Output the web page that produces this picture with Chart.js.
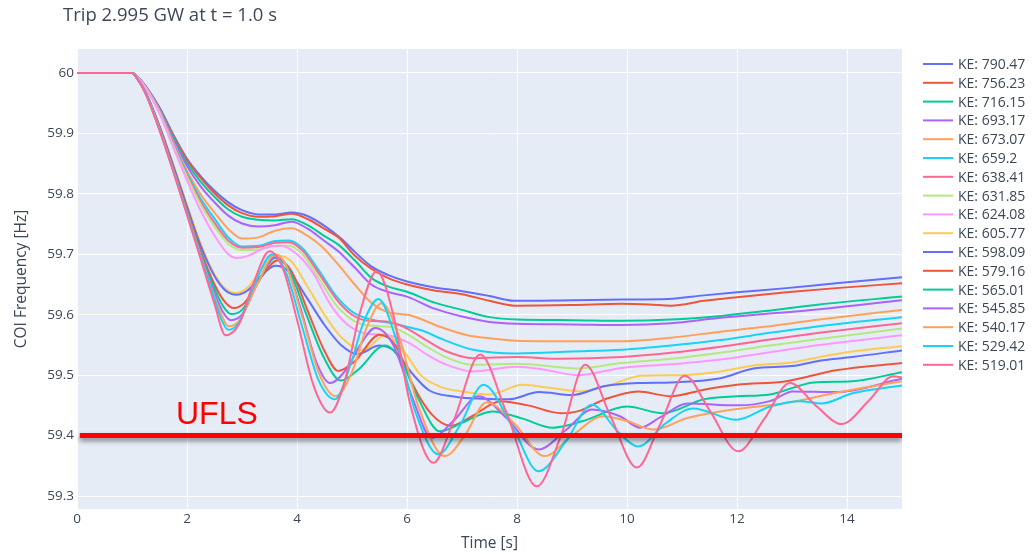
<!DOCTYPE html>
<html>
<head>
<meta charset="utf-8">
<script src="https://cdn.jsdelivr.net/npm/chart.js@4.4.1/dist/chart.umd.min.js"></script>
<style>
  html, body { margin: 0; padding: 0; background: #ffffff; }
  #wrap { width: 1033px; height: 554px; }
</style>
</head>
<body>
<div id="wrap"><canvas id="c" width="1033" height="554"></canvas></div>
<script>
// Centre-of-inertia frequency after a 2.995 GW trip, one trace per kinetic energy level.
// Each trace is a list of [time (s), frequency (Hz)] samples.
const TITLE = 'Trip 2.995 GW at t = 1.0 s';
const X_TICKS = [0, 2, 4, 6, 8, 10, 12, 14];
const Y_TICKS = [59.3, 59.4, 59.5, 59.6, 59.7, 59.8, 59.9, 60];
const KE_LABELS = ['790.47', '756.23', '716.15', '693.17', '673.07', '659.2', '638.41', '631.85', '624.08',
                   '605.77', '598.09', '579.16', '565.01', '545.85', '540.17', '529.42', '519.01'];
const UFLS_LEVEL = 59.4;
const UFLS_SPAN = [0.05, 15];
const UFLS_LABEL_T = 1.8;

const KE_790 = [[0,60],[1,60],[1.1,59.994],[1.25,59.978],[1.5,59.943],[1.75,59.898],[2,59.858],[2.25,59.829],[2.5,59.805],[2.75,59.786],[3,59.773],[3.3,59.766],[3.6,59.766],[3.9,59.769],[4.2,59.763],[4.5,59.747],[4.8,59.726],[5.05,59.704],[5.35,59.680],[5.65,59.666],[6,59.655],[6.5,59.645],[7,59.639],[7.5,59.631],[7.95,59.623],[9,59.624],[9.9,59.625],[10.75,59.626],[11.4,59.632],[12,59.637],[12.9,59.644],[13.8,59.652],[15,59.662]];
const KE_756 = [[0,60],[1,60],[1.1,59.994],[1.25,59.978],[1.5,59.942],[1.75,59.897],[2,59.856],[2.25,59.826],[2.5,59.801],[2.75,59.781],[3,59.768],[3.3,59.762],[3.6,59.763],[3.9,59.767],[4.2,59.758],[4.5,59.742],[4.75,59.728],[5.05,59.698],[5.35,59.676],[5.65,59.661],[6,59.650],[6.5,59.640],[7,59.634],[7.5,59.623],[7.95,59.615],[9,59.616],[9.9,59.618],[10.4,59.617],[10.8,59.615],[11.4,59.623],[12,59.629],[12.9,59.637],[13.8,59.644],[15,59.652]];
const KE_716 = [[0,60],[1,60],[1.1,59.994],[1.25,59.977],[1.5,59.941],[1.75,59.894],[2,59.851],[2.25,59.820],[2.5,59.795],[2.75,59.774],[3,59.762],[3.3,59.757],[3.6,59.756],[3.9,59.758],[4.2,59.748],[4.5,59.730],[4.75,59.716],[5.05,59.690],[5.35,59.661],[5.65,59.647],[6,59.638],[6.5,59.620],[7,59.608],[7.5,59.596],[8,59.592],[9,59.591],[9.9,59.590],[10.8,59.592],[11.7,59.598],[12.5,59.606],[13.5,59.617],[15,59.630]];
const KE_693 = [[0,60],[1,60],[1.1,59.994],[1.25,59.977],[1.5,59.940],[1.75,59.891],[2,59.846],[2.25,59.812],[2.5,59.786],[2.75,59.764],[3,59.751],[3.3,59.746],[3.6,59.748],[3.9,59.754],[4.2,59.742],[4.5,59.722],[4.75,59.705],[5.05,59.678],[5.35,59.650],[5.65,59.638],[6,59.630],[6.5,59.610],[7,59.597],[7.5,59.588],[8,59.585],[9,59.584],[9.9,59.583],[10.8,59.586],[11.7,59.595],[12.5,59.601],[13.5,59.609],[15,59.624]];
const KE_673 = [[0,60],[1,60],[1.1,59.993],[1.25,59.977],[1.5,59.938],[1.75,59.886],[2,59.838],[2.25,59.799],[2.5,59.769],[2.75,59.742],[3,59.726],[3.3,59.728],[3.6,59.739],[3.9,59.743],[4.2,59.730],[4.45,59.713],[4.75,59.683],[5.05,59.650],[5.35,59.620],[5.6,59.606],[6.1,59.598],[6.6,59.580],[7.1,59.566],[7.5,59.561],[8,59.557],[9,59.556],[9.9,59.556],[10.8,59.562],[11.7,59.572],[12.5,59.580],[13.5,59.592],[15,59.608]];
const KE_659 = [[0,60],[1,60],[1.1,59.993],[1.25,59.976],[1.5,59.937],[1.75,59.884],[2,59.834],[2.25,59.792],[2.5,59.759],[2.75,59.728],[3,59.713],[3.3,59.714],[3.6,59.722],[3.85,59.723],[4.1,59.710],[4.4,59.673],[4.72,59.630],[5.02,59.604],[5.35,59.592],[5.65,59.587],[6,59.580],[6.3,59.573],[6.6,59.561],[7.2,59.542],[8,59.536],[9,59.539],[9.9,59.542],[10.8,59.549],[11.7,59.558],[12.6,59.570],[13.5,59.581],[15,59.596]];
const KE_638 = [[0,60],[1,60],[1.1,59.993],[1.25,59.976],[1.5,59.936],[1.75,59.882],[2,59.831],[2.25,59.787],[2.5,59.752],[2.75,59.723],[3,59.711],[3.3,59.712],[3.6,59.719],[3.85,59.720],[4.1,59.706],[4.4,59.668],[4.72,59.625],[5,59.600],[5.3,59.590],[5.7,59.588],[6,59.577],[6.4,59.555],[6.7,59.540],[7.2,59.528],[8,59.530],[8.8,59.527],[9.9,59.530],[10.8,59.537],[11.7,59.547],[12.6,59.559],[13.5,59.570],[15,59.586]];
const KE_631 = [[0,60],[1,60],[1.1,59.993],[1.25,59.976],[1.5,59.935],[1.75,59.880],[2,59.828],[2.25,59.782],[2.5,59.746],[2.75,59.717],[3,59.707],[3.3,59.708],[3.6,59.714],[3.85,59.714],[4.1,59.700],[4.4,59.660],[4.72,59.615],[5,59.592],[5.3,59.582],[5.7,59.580],[6,59.568],[6.4,59.545],[6.7,59.530],[7.2,59.517],[8,59.519],[9.1,59.511],[9.9,59.520],[10.8,59.527],[11.7,59.537],[12.6,59.549],[13.5,59.560],[15,59.577]];
const KE_624 = [[0,60],[1,60],[1.1,59.993],[1.25,59.975],[1.5,59.933],[1.75,59.877],[2,59.822],[2.25,59.772],[2.5,59.731],[2.75,59.700],[2.9,59.694],[3.1,59.697],[3.4,59.710],[3.7,59.714],[4,59.700],[4.3,59.668],[4.6,59.618],[4.9,59.585],[5.25,59.569],[5.6,59.567],[6,59.555],[6.4,59.532],[6.7,59.518],[7.2,59.506],[8,59.514],[8.5,59.509],[9.1,59.500],[9.9,59.512],[10.8,59.518],[11.7,59.526],[12.6,59.538],[13.5,59.550],[15,59.566]];
const KE_605 = [[0,60],[1,60],[1.1,59.990],[1.25,59.968],[1.5,59.913],[1.75,59.849],[2,59.782],[2.25,59.717],[2.5,59.667],[2.7,59.643],[2.9,59.636],[3.1,59.645],[3.4,59.680],[3.65,59.698],[3.9,59.688],[4.2,59.645],[4.5,59.600],[4.8,59.563],[5.2,59.541],[5.6,59.566],[5.9,59.545],[6.25,59.500],[6.6,59.481],[7,59.473],[7.5,59.468],[8.1,59.484],[8.6,59.479],[9.15,59.473],[9.7,59.484],[10.25,59.499],[11,59.500],[11.7,59.506],[12.3,59.516],[13,59.521],[13.5,59.530],[14.1,59.539],[15,59.548]];
const KE_598 = [[0,60],[1,60],[1.1,59.990],[1.25,59.968],[1.5,59.912],[1.75,59.847],[2,59.779],[2.25,59.714],[2.5,59.664],[2.7,59.640],[2.9,59.633],[3.1,59.640],[3.35,59.664],[3.6,59.681],[3.85,59.672],[4.2,59.625],[4.5,59.583],[4.8,59.550],[5.1,59.535],[5.5,59.549],[5.8,59.538],[6.1,59.502],[6.4,59.475],[6.9,59.464],[7.4,59.461],[7.85,59.460],[8.4,59.472],[9,59.467],[9.6,59.482],[10.25,59.487],[10.8,59.488],[11.7,59.495],[12.3,59.511],[13,59.515],[13.5,59.524],[14.1,59.530],[15,59.541]];
const KE_579 = [[0,60],[1,60],[1.1,59.990],[1.25,59.967],[1.5,59.910],[1.75,59.843],[2,59.774],[2.25,59.706],[2.5,59.650],[2.7,59.620],[2.85,59.611],[3.05,59.620],[3.35,59.662],[3.65,59.690],[3.9,59.672],[4.2,59.605],[4.5,59.540],[4.75,59.507],[5.05,59.523],[5.5,59.567],[5.8,59.548],[6.1,59.485],[6.45,59.435],[6.8,59.416],[7.2,59.433],[7.7,59.457],[8.2,59.450],[8.8,59.437],[9.1,59.440],[9.6,59.460],[10.2,59.473],[10.8,59.465],[11.4,59.476],[12,59.484],[12.9,59.490],[13.8,59.508],[15,59.520]];
const KE_565 = [[0,60],[1,60],[1.1,59.990],[1.25,59.967],[1.5,59.909],[1.75,59.841],[2,59.771],[2.25,59.702],[2.5,59.643],[2.65,59.615],[2.8,59.601],[3,59.608],[3.3,59.655],[3.6,59.694],[3.85,59.676],[4.15,59.605],[4.5,59.527],[4.8,59.491],[5.1,59.508],[5.6,59.549],[5.9,59.523],[6.2,59.462],[6.6,59.407],[7,59.421],[7.55,59.440],[8.1,59.428],[8.65,59.413],[9.2,59.424],[10,59.448],[10.65,59.437],[11.4,59.460],[12,59.465],[12.6,59.468],[13.4,59.488],[14.1,59.490],[15,59.505]];
const KE_545 = [[0,60],[1,60],[1.1,59.990],[1.25,59.966],[1.5,59.908],[1.75,59.840],[2,59.769],[2.25,59.699],[2.5,59.636],[2.65,59.605],[2.8,59.591],[3,59.600],[3.3,59.655],[3.6,59.695],[3.8,59.682],[4.05,59.615],[4.35,59.522],[4.6,59.487],[4.9,59.510],[5.15,59.550],[5.42,59.578],[5.75,59.550],[6.1,59.462],[6.45,59.396],[6.85,59.425],[7.3,59.465],[7.8,59.430],[8.39,59.377],[8.9,59.410],[9.36,59.443],[9.87,59.432],[10.24,59.413],[10.6,59.430],[11.1,59.453],[12,59.450],[12.6,59.457],[13.02,59.473],[13.8,59.472],[15,59.494]];
const KE_540 = [[0,60],[1,60],[1.1,59.990],[1.25,59.966],[1.5,59.907],[1.75,59.839],[2,59.768],[2.25,59.697],[2.5,59.630],[2.65,59.595],[2.75,59.581],[2.95,59.590],[3.3,59.655],[3.6,59.700],[3.8,59.682],[4.1,59.595],[4.4,59.503],[4.7,59.465],[5,59.505],[5.25,59.575],[5.54,59.619],[5.85,59.565],[6.2,59.450],[6.69,59.366],[7.05,59.400],[7.45,59.455],[7.95,59.420],[8.5,59.366],[9,59.400],[9.57,59.432],[10,59.424],[10.48,59.410],[11.1,59.429],[12,59.444],[12.9,59.454],[13.8,59.471],[15,59.490]];
const KE_529 = [[0,60],[1,60],[1.1,59.990],[1.25,59.966],[1.5,59.906],[1.75,59.838],[2,59.767],[2.25,59.695],[2.5,59.627],[2.62,59.593],[2.75,59.575],[2.95,59.588],[3.25,59.655],[3.55,59.700],[3.8,59.670],[4.1,59.578],[4.4,59.490],[4.69,59.460],[5,59.525],[5.2,59.585],[5.48,59.626],[5.8,59.560],[6.15,59.440],[6.57,59.369],[6.95,59.415],[7.39,59.484],[7.9,59.418],[8.39,59.341],[8.9,59.392],[9.36,59.451],[9.85,59.405],[10.2,59.382],[10.7,59.420],[11.2,59.445],[11.99,59.426],[12.6,59.448],[13.15,59.457],[13.54,59.453],[14.1,59.470],[15,59.483]];
const KE_519 = [[0,60],[1,60],[1.1,59.990],[1.25,59.965],[1.5,59.905],[1.75,59.837],[2,59.765],[2.25,59.692],[2.5,59.618],[2.7,59.566],[2.95,59.585],[3.2,59.650],[3.5,59.705],[3.75,59.675],[4,59.592],[4.3,59.483],[4.6,59.438],[4.85,59.484],[5.15,59.605],[5.45,59.672],[5.75,59.600],[6.05,59.455],[6.48,59.355],[6.85,59.425],[7.33,59.534],[7.8,59.440],[8.36,59.316],[8.8,59.400],[9.24,59.517],[9.7,59.432],[10.18,59.347],[10.6,59.418],[11.05,59.499],[11.5,59.442],[12.02,59.374],[12.5,59.428],[12.96,59.487],[13.45,59.448],[13.9,59.419],[14.4,59.458],[14.84,59.498],[15,59.496]];

const SERIES = [KE_790, KE_756, KE_716, KE_693, KE_673, KE_659, KE_638, KE_631, KE_624,
                KE_605, KE_598, KE_579, KE_565, KE_545, KE_540, KE_529, KE_519];

// Plotly-style qualitative palette, cycling after ten traces
const PALETTE = ['#636EFA', '#EF553B', '#00CC96', '#AB63FA', '#FFA15A', '#19D3F3', '#FF6692', '#B6E880', '#FF97FF', '#FECB52'];
const TEXT_COLOR = '#3c4858';
const FONT = '"Open Sans", "DejaVu Sans", sans-serif';

const traceSets = SERIES.map((pts, i) => ({
  label: 'KE: ' + KE_LABELS[i],
  data: pts.map(([t, f]) => ({ x: t, y: f })),
  borderColor: PALETTE[i % PALETTE.length],
  backgroundColor: PALETTE[i % PALETTE.length],
  borderWidth: 2,
  pointRadius: 0,
  fill: false,
  cubicInterpolationMode: 'monotone',
  order: SERIES.length - i
}));

const uflsSet = {
  label: 'UFLS',
  data: UFLS_SPAN.map(t => ({ x: t, y: UFLS_LEVEL })),
  borderColor: '#FF0000',
  borderWidth: 5,
  pointRadius: 0,
  fill: false,
  order: -1,
  isThreshold: true
};

const plotArea = {
  id: 'plotArea',
  beforeDraw(chart) {
    const { ctx, chartArea: a } = chart;
    ctx.save();
    ctx.fillStyle = '#E5ECF6';
    ctx.fillRect(a.left, a.top, a.right - a.left, a.bottom - a.top);
    ctx.restore();
  },
  beforeDatasetDraw(chart, args) {
    if (args.meta._dataset.isThreshold) {
      const ctx = chart.ctx;
      ctx.save();
      ctx.shadowColor = 'rgba(0,0,0,0.45)';
      ctx.shadowBlur = 5;
      ctx.shadowOffsetY = 3;
    }
  },
  afterDatasetDraw(chart, args) {
    if (args.meta._dataset.isThreshold) chart.ctx.restore();
  },
  afterDraw(chart) {
    const { ctx, chartArea: a, scales } = chart;
    ctx.save();
    // title
    ctx.fillStyle = TEXT_COLOR;
    ctx.font = '18.5px ' + FONT;
    ctx.textAlign = 'left';
    ctx.textBaseline = 'alphabetic';
    ctx.fillText(TITLE, 63, 21);
    // UFLS label above the threshold line
    ctx.fillStyle = '#FF0000';
    ctx.font = '32px "Liberation Sans", Arial, sans-serif';
    ctx.fillText('UFLS', scales.x.getPixelForValue(UFLS_LABEL_T), scales.y.getPixelForValue(UFLS_LEVEL) - 12);
    // legend
    ctx.font = '14px ' + FONT;
    ctx.textBaseline = 'middle';
    const x0 = a.right + 21;
    chart.data.datasets.forEach((ds, i) => {
      if (ds.isThreshold) return;
      const y = a.top + 15 + i * 18.8;
      ctx.strokeStyle = ds.borderColor;
      ctx.lineWidth = 2;
      ctx.beginPath();
      ctx.moveTo(x0, y);
      ctx.lineTo(x0 + 30, y);
      ctx.stroke();
      ctx.fillStyle = TEXT_COLOR;
      ctx.fillText(ds.label, x0 + 35, y + 1);
    });
    ctx.restore();
  }
};

new Chart(document.getElementById('c'), {
  type: 'line',
  data: { datasets: traceSets.concat([uflsSet]) },
  options: {
    responsive: false,
    devicePixelRatio: 1,
    animation: false,
    layout: { padding: { top: 49, right: 131, bottom: 0, left: 0 } },
    plugins: { legend: { display: false }, tooltip: { enabled: false }, title: { display: false } },
    scales: {
      x: {
        type: 'linear',
        min: 0,
        max: 15,
        afterBuildTicks(scale) { scale.ticks = X_TICKS.map(v => ({ value: v })); },
        afterFit(scale) { scale.height = 45; },
        grid: { color: '#ffffff', lineWidth: 1, drawTicks: false },
        border: { display: false },
        ticks: { color: TEXT_COLOR, font: { family: FONT, size: 13.5 }, padding: 2, maxRotation: 0,
                 callback: v => String(v) },
        title: { display: true, text: 'Time [s]', color: TEXT_COLOR, font: { family: FONT, size: 15.5 },
                 padding: { top: 0, bottom: 1 } }
      },
      y: {
        type: 'linear',
        min: 59.2785,
        max: 60.0397,
        afterBuildTicks(scale) { scale.ticks = Y_TICKS.map(v => ({ value: v })); },
        afterFit(scale) { scale.width = 77; },
        grid: { color: '#ffffff', lineWidth: 1, drawTicks: false },
        border: { display: false },
        ticks: { color: TEXT_COLOR, font: { family: FONT, size: 13.5 }, padding: 3,
                 callback: v => String(Number(v.toFixed(1))) },
        title: { display: true, text: 'COI Frequency [Hz]', color: TEXT_COLOR, font: { family: FONT, size: 15.5 },
                 padding: { top: 12, bottom: 0 } }
      }
    }
  },
  plugins: [plotArea]
});
</script>
</body>
</html>
